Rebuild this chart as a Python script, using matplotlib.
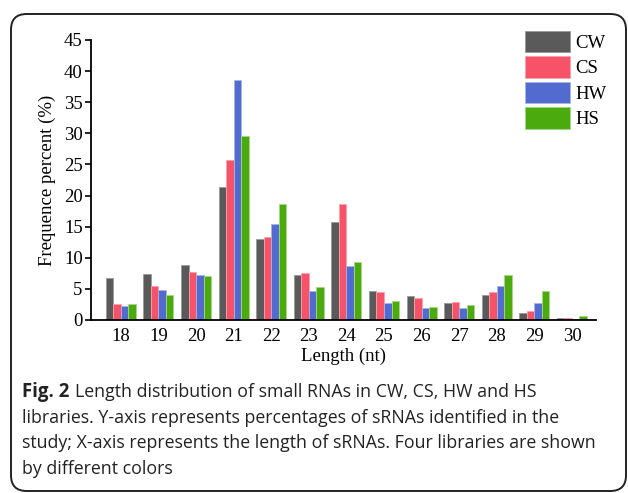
import matplotlib
matplotlib.use("Agg")
import matplotlib.pyplot as plt
from matplotlib.patches import FancyBboxPatch
import numpy as np

lengths = ["18", "19", "20", "21", "22", "23", "24", "25", "26", "27", "28", "29", "30"]
series_names = ["CW", "CS", "HW", "HS"]
cw = [6.7, 7.4, 8.8, 21.3, 13.0, 7.3, 15.7, 4.7, 3.8, 2.7, 4.0, 1.2, 0.25]
cs = [2.5, 5.5, 7.7, 25.7, 13.3, 7.5, 18.6, 4.5, 3.5, 2.9, 4.5, 1.5, 0.25]
hw = [2.3, 4.8, 7.2, 38.6, 15.4, 4.6, 8.6, 2.8, 2.0, 2.0, 5.4, 2.7, 0.2]
hs = [2.6, 4.0, 7.1, 29.6, 18.6, 5.3, 9.3, 3.0, 2.1, 2.4, 7.3, 4.6, 0.6]
colors = ["#5a5a5a", "#f65268", "#526bcf", "#4aaa0e"]
edges = ["#9a9a9a", "#fba0ac", "#a8b4e8", "#a6d888"]

W, H = 628, 493
fig = plt.figure(figsize=(W / 100, H / 100), dpi=100)
fig.patch.set_facecolor("white")

# rounded border
box = FancyBboxPatch((11 / W, 1 - 491 / H), (626 - 11) / W, (491 - 14) / H,
                     boxstyle="round,pad=0,rounding_size=0.025", transform=fig.transFigure,
                     facecolor="none", edgecolor="#222222", linewidth=1.4, mutation_aspect=W / H)
fig.patches.append(box)

left, right, top, bottom = 91, 596, 40, 320
ax = fig.add_axes([left / W, 1 - bottom / H, (right - left) / W, (bottom - top) / H])
serif = "Liberation Serif"
x = np.arange(len(lengths))
bw = 0.2
for j, (name, vals) in enumerate(zip(series_names, [cw, cs, hw, hs])):
    ax.bar(x + (j - 1.5) * bw, vals, width=bw, color=colors[j], edgecolor=edges[j],
           linewidth=0.6, label=name)

ax.set_xlim(-0.794, 12.64)
ax.set_ylim(0, 45)
ax.set_yticks(np.arange(0, 46, 5))
ax.set_xticks(x)
ax.set_xticklabels(lengths)
for s in ["top", "right"]:
    ax.spines[s].set_visible(False)
ax.spines["left"].set_linewidth(1.3)
ax.spines["bottom"].set_linewidth(1.3)
ax.tick_params(axis="y", direction="out", length=4, width=1.2, pad=2, labelsize=13.5)
ax.tick_params(axis="x", length=0, pad=6, labelsize=13.5)
for lab in ax.get_xticklabels() + ax.get_yticklabels():
    lab.set_fontfamily(serif)
ax.set_ylabel("Frequence percent (%)", fontfamily=serif, fontsize=13.5, labelpad=6)
ax.set_xlabel("Length (nt)", fontfamily=serif, fontsize=13.5, labelpad=2)

leg = ax.legend(loc="upper right", bbox_to_anchor=(1.036, 1.06), frameon=False,
                prop={"family": serif, "size": 13.5}, handlelength=2.4, handleheight=1.4,
                handletextpad=0.3, labelspacing=0.2, borderaxespad=0)

# caption
cap_font = "Open Sans"
fs = 12.8
x0 = 22
renderer = fig.canvas.get_renderer()
y1 = 1 - 397 / H
t_bold = fig.text(x0 / W, y1, "Fig. 2", fontfamily=cap_font, fontweight="bold", fontsize=fs + 0.6,
                  va="baseline", ha="left", color="#222222")
bb = t_bold.get_window_extent(renderer)
fig.text(bb.x1 / W + 6 / W, y1, "Length distribution of small RNAs in CW, CS, HW and HS",
         fontfamily=cap_font, fontsize=fs, va="baseline", ha="left", color="#222222")
lines = ["libraries. Y-axis represents percentages of sRNAs identified in the",
         "study; X-axis represents the length of sRNAs. Four libraries are shown",
         "by different colors"]
for i, ln in enumerate(lines):
    fig.text(x0 / W, 1 - (397 + 25.6 * (i + 1)) / H, ln, fontfamily=cap_font, fontsize=fs,
             va="baseline", ha="left", color="#222222")

fig.savefig("out.png", dpi=100)
